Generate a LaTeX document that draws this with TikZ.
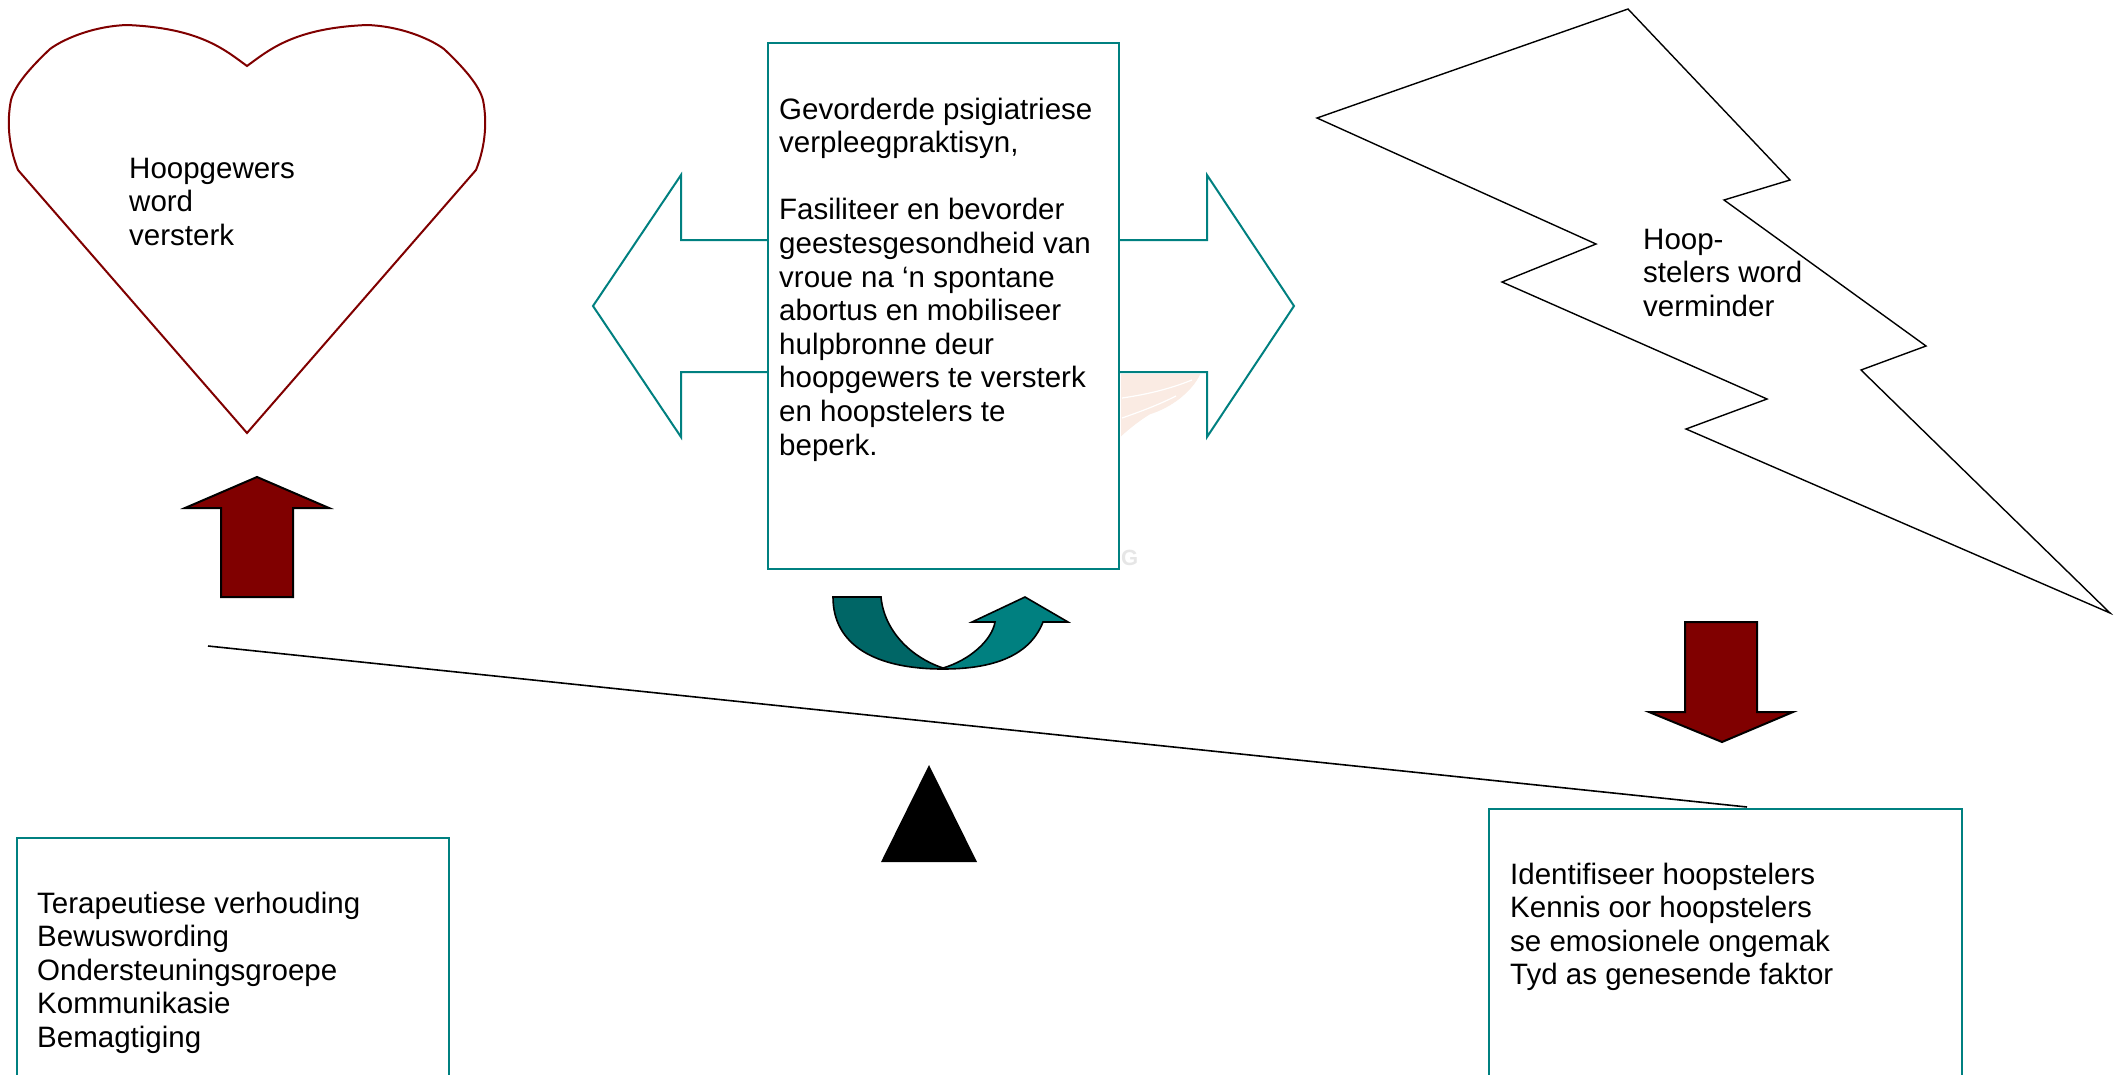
\documentclass[tikz,border=0pt]{standalone}
\usepackage{fontspec}
\setmainfont{Liberation Sans}
\definecolor{tealc}{RGB}{0,128,128}
\definecolor{tealdark}{RGB}{0,102,102}
\definecolor{darkred}{RGB}{128,0,0}
\definecolor{wingc}{RGB}{250,235,227}
\definecolor{wmgray}{RGB}{230,230,230}
\tikzset{
  txt/.style={anchor=base west, inner sep=0pt, font=\fontsize{29.5}{33.6}\selectfont},
  tealline/.style={draw=tealc, line width=2pt, fill=white, line join=miter},
  redarrow/.style={draw=black, line width=2pt, fill=darkred, line join=miter},
  curvearrow/.style={draw=black, line width=1.6pt, line join=miter},
}
\begin{document}
\begin{tikzpicture}[x=1pt,y=-1pt]
\useasboundingbox (0,0) rectangle (2114,1074);
\clip (0,0) rectangle (2114,1074);
\fill[white] (0,0) rectangle (2114,1074);

% heart
\draw[draw=darkred, line width=2pt, fill=white]
  (247,66) .. controls (225,50) and (200,28) .. (127,25)
  .. controls (95,26) and (65,38) .. (50,49)
  .. controls (30,68) and (15,85) .. (11,100)
  .. controls (7,120) and (8,145) .. (18,170)
  -- (247,433) -- (476,170)
  .. controls (486,145) and (487,120) .. (483,100)
  .. controls (479,85) and (464,68) .. (444,49)
  .. controls (429,38) and (399,26) .. (367,25)
  .. controls (294,28) and (269,50) .. (247,66) -- cycle;
\node[txt] (hoopgewers) at (129,178) {\begin{tabular}[t]{@{}l@{}}Hoopgewers\\word\\versterk\end{tabular}};

% lightning
\draw[black, line width=1.4pt, fill=white, line join=miter]
  (1628,9) -- (1317,118) -- (1596,244) -- (1502,282) -- (1767,399) -- (1686,429)
  -- (2110,613) -- (1861,370) -- (1926,346) -- (1724,200) -- (1790,180) -- cycle;
\node[txt] (hoopstelers) at (1643,249) {\begin{tabular}[t]{@{}l@{}}Hoop-\\stelers word\\verminder\end{tabular}};

% watermark remnants (faint wing)
\fill[wingc] (1121,380) -- (1200,374) .. controls (1192,392) and (1170,408) .. (1150,414)
  .. controls (1140,420) and (1130,428) .. (1121,436) -- cycle;
\draw[white, line width=1.5pt] (1124,400) .. controls (1150,396) and (1170,392) .. (1190,384);
\draw[white, line width=1.5pt] (1124,420) .. controls (1145,412) and (1160,406) .. (1175,398);

% double arrow behind centre box
\draw[tealline]
  (768,240) -- (681,240) -- (681,175) -- (593,306) -- (681,437) -- (681,372) -- (768,372)
  -- (1119,372) -- (1207,372) -- (1207,437) -- (1294,306) -- (1207,175) -- (1207,240) -- (1119,240) -- cycle;
\fill[wingc] (1121,374) -- (1200,374) .. controls (1192,392) and (1170,408) .. (1150,414)
  .. controls (1140,420) and (1130,428) .. (1121,436) -- cycle;
\draw[white, line width=1.2pt] (1122,398) .. controls (1150,394) and (1172,388) .. (1192,380);
\draw[white, line width=1.2pt] (1122,418) .. controls (1145,410) and (1160,404) .. (1176,396);
% centre box
\draw[tealline] (768,43) rectangle (1119,569);
\node[txt] (centre) at (779,119) {\begin{tabular}[t]{@{}l@{}}Gevorderde psigiatriese\\verpleegpraktisyn,\\ \\Fasiliteer en bevorder\\geestesgesondheid van\\vroue na ‘n spontane\\abortus en mobiliseer\\hulpbronne deur\\hoopgewers te versterk\\en hoopstelers te\\beperk.\end{tabular}};
\node[anchor=base west, inner sep=0pt, text=wmgray, font=\fontsize{22}{24}\selectfont\bfseries] (wmg) at (1121,565) {G};

% curved arrow
\draw[curvearrow, fill=tealdark]
  (833,597) -- (881,597)
  .. controls (884,630) and (910,657) .. (943,668)
  -- (943,669)
  .. controls (875,669) and (833,645) .. (833,597) -- cycle;
\draw[curvearrow, fill=tealc]
  (943,668) .. controls (970,660) and (992,640) .. (995,622)
  -- (972,622) -- (1025,597) -- (1068,622) -- (1043,622)
  .. controls (1030,655) and (995,669) .. (943,669) -- cycle;

% red arrows
\draw[redarrow] (257,477) -- (329,508) -- (293,508) -- (293,597) -- (221,597) -- (221,508) -- (185,508) -- cycle;
\draw[redarrow] (1685,622) -- (1757,622) -- (1757,712) -- (1793,712) -- (1722,742) -- (1649,712) -- (1685,712) -- cycle;

% balance
\coordinate (beamL) at (208,646);
\coordinate (beamR) at (1747,807);
\draw[black, line width=1.6pt] (beamL) -- (beamR);
\fill[black] (929,765) -- (977,862) -- (881,862) -- cycle;

% bottom boxes
\draw[tealline] (17,838) rectangle (449,1090);
\node[txt] (links) at (37,913) {\begin{tabular}[t]{@{}l@{}}Terapeutiese verhouding\\Bewuswording\\Ondersteuningsgroepe\\Kommunikasie\\Bemagtiging\end{tabular}};
\draw[tealline] (1489,809) rectangle (1962,1090);
\node[txt] (regs) at (1510,884) {\begin{tabular}[t]{@{}l@{}}Identifiseer hoopstelers\\Kennis oor hoopstelers\\se emosionele ongemak\\Tyd as genesende faktor\end{tabular}};
\end{tikzpicture}
\end{document}
